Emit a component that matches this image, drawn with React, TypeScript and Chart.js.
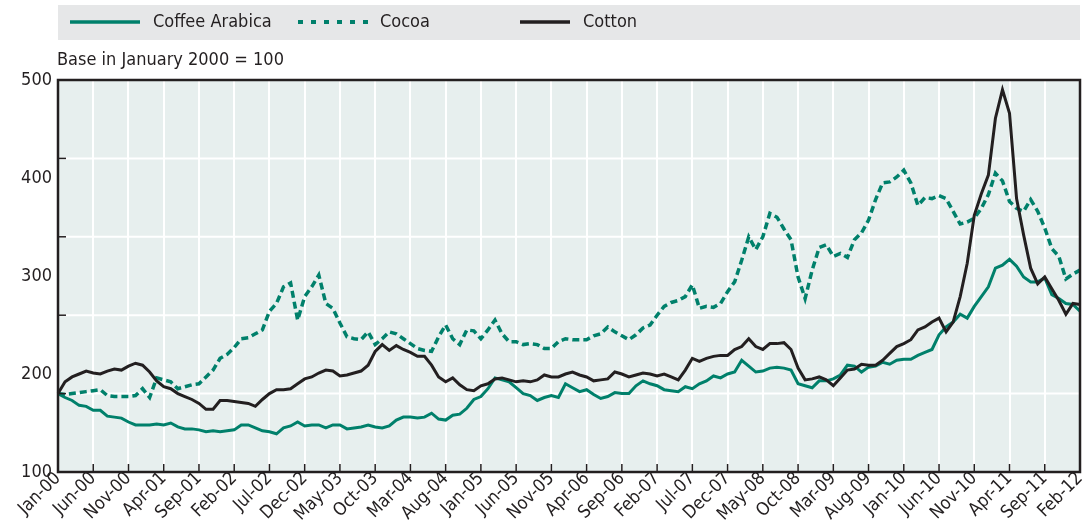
import React, { useEffect, useRef } from "react";
import { Chart, registerables } from "chart.js";

Chart.register(...registerables);

const MONTH_NAMES = ["Jan", "Feb", "Mar", "Apr", "May", "Jun", "Jul", "Aug", "Sep", "Oct", "Nov", "Dec"];
const months: string[] = [];
for (let y = 2000; y <= 2012; y++) {
  for (let m = 0; m < 12; m++) {
    if (y === 2012 && m > 1) break;
    months.push(`${MONTH_NAMES[m]}-${String(y % 100).padStart(2, "0")}`);
  }
}

const coffeeArabica = [
  180, 176, 173, 168, 167, 163, 163, 157, 156, 155,
  151, 148, 148, 148, 149, 148, 150, 146, 144, 144,
  143, 141, 142, 141, 142, 143, 148, 148, 145, 142,
  141, 139, 145, 147, 151, 147, 148, 148, 145, 148,
  148, 144, 145, 146, 148, 146, 145, 147, 153, 156,
  156, 155, 156, 160, 154, 153, 158, 159, 165, 174,
  177, 185, 196, 194, 192, 186, 180, 178, 173, 176,
  178, 176, 190, 186, 182, 184, 179, 175, 177, 181,
  180, 180, 188, 193, 190, 188, 184, 183, 182, 187,
  185, 190, 193, 198, 196, 200, 202, 214, 208, 202,
  203, 206, 207, 206, 204, 190, 188, 186, 193, 193,
  195, 199, 209, 208, 202, 207, 208, 212, 210, 214,
  215, 215, 219, 222, 225, 240, 248, 253, 261, 257,
  269, 279, 289, 308, 311, 317, 310, 299, 294, 294,
  298, 281, 277, 272, 271, 264,
];

const cocoa = [
  180, 179, 180, 181, 182, 183, 184, 178, 177, 177,
  177, 178, 185, 176, 196, 194, 192, 185, 187, 189,
  190, 197, 204, 216, 220, 227, 236, 237, 241, 245,
  264, 272, 289, 293, 255, 279, 289, 301, 272, 267,
  252, 238, 236, 235, 243, 230, 236, 243, 241, 236,
  231, 226, 224, 223, 238, 250, 236, 230, 245, 244,
  236, 245, 255, 241, 233, 233, 230, 231, 230, 226,
  226, 233, 236, 235, 235, 235, 239, 241, 248, 243,
  239, 235, 240, 247, 250, 260, 269, 273, 275, 279,
  291, 267, 269, 268, 272, 284, 294, 316, 340, 327,
  340, 364, 360, 348, 337, 299, 277, 306, 329, 332,
  320, 323, 319, 337, 344, 357, 378, 395, 396, 401,
  408, 395, 372, 380, 379, 382, 379, 366, 353, 355,
  359, 369, 383, 405, 397, 376, 369, 366, 378, 366,
  349, 328, 320, 297, 302, 306,
];

const cotton = [
  180, 192, 197, 200, 203, 201, 200, 203, 205, 204,
  208, 211, 209, 202, 193, 187, 185, 180, 177, 174,
  170, 164, 164, 173, 173, 172, 171, 170, 167, 174,
  180, 184, 184, 185, 190, 195, 197, 201, 204, 203,
  198, 199, 201, 203, 209, 223, 230, 224, 229, 225,
  222, 218, 218, 209, 197, 192, 196, 189, 184, 183,
  188, 190, 195, 196, 194, 192, 193, 192, 194, 199,
  197, 197, 200, 202, 199, 197, 193, 194, 195, 202,
  200, 197, 199, 201, 200, 198, 200, 197, 194, 204,
  216, 213, 216, 218, 219, 219, 225, 228, 236, 228,
  225, 231, 231, 232, 225, 206, 194, 195, 197, 194,
  188, 196, 204, 205, 210, 209, 209, 214, 221, 228,
  231, 235, 245, 248, 253, 257, 243, 253, 279, 313,
  362, 384, 403, 461, 490, 466, 379, 342, 308, 292,
  299, 287, 275, 261, 272, 271,
];

const yLabelValues = [100, 200, 300, 400, 500];
const yGridValues = [180, 260, 340, 420];
const xTickStep = 5;

const seriesNames = ["Coffee Arabica", "Cocoa", "Cotton"];
const subtitle = "Base in January 2000 = 100";

const GREEN = "#00806b";
const BLACK = "#231f20";
const TEXT = "#231f20";
const PLOT_BG = "#e7efee";
const LEGEND_BG = "#e6e7e8";
const FONT = '"Liberation Sans Narrow", "Arial Narrow", "DejaVu Sans Condensed", sans-serif';
const FONT_SIZE = 18;

const decorPlugin = {
  id: "decor",
  beforeDraw(chart: any) {
    const { ctx, chartArea: a } = chart;
    ctx.save();
    ctx.fillStyle = PLOT_BG;
    ctx.fillRect(a.left, a.top, a.right - a.left, a.bottom - a.top);
    ctx.fillStyle = LEGEND_BG;
    ctx.fillRect(a.left, 5, a.right - a.left, 35);
    ctx.restore();
  },
  beforeDatasetsDraw(chart: any) {
    const { ctx, chartArea: a, scales } = chart;
    ctx.save();
    ctx.strokeStyle = "#ffffff";
    ctx.lineWidth = 2;
    yGridValues.forEach((v) => {
      const y = scales.y.getPixelForValue(v);
      ctx.beginPath();
      ctx.moveTo(a.left, y);
      ctx.lineTo(a.right, y);
      ctx.stroke();
    });
    ctx.restore();
  },
  afterDatasetsDraw(chart: any) {
    const { ctx, chartArea: a, scales } = chart;
    ctx.save();
    ctx.strokeStyle = BLACK;
    ctx.lineWidth = 1.5;
    for (let i = xTickStep; i < months.length - 1; i += xTickStep) {
      const x = scales.x.getPixelForValue(i);
      ctx.beginPath();
      ctx.moveTo(x, a.bottom);
      ctx.lineTo(x, a.bottom - 8);
      ctx.stroke();
    }
    yGridValues.forEach((v) => {
      const y = scales.y.getPixelForValue(v);
      ctx.beginPath();
      ctx.moveTo(a.left, y);
      ctx.lineTo(a.left + 8, y);
      ctx.stroke();
    });
    ctx.lineWidth = 2.5;
    ctx.strokeRect(a.left, a.top, a.right - a.left, a.bottom - a.top);
    ctx.restore();
  },
  afterDraw(chart: any) {
    const { ctx } = chart;
    ctx.save();
    const ly = 22;
    ctx.lineWidth = 3.5;
    ctx.strokeStyle = GREEN;
    ctx.beginPath();
    ctx.moveTo(70, ly);
    ctx.lineTo(140, ly);
    ctx.stroke();
    ctx.lineWidth = 4;
    ctx.setLineDash([5, 8]);
    ctx.beginPath();
    ctx.moveTo(298, ly);
    ctx.lineTo(368, ly);
    ctx.stroke();
    ctx.setLineDash([]);
    ctx.lineWidth = 3.5;
    ctx.strokeStyle = BLACK;
    ctx.beginPath();
    ctx.moveTo(520, ly);
    ctx.lineTo(570, ly);
    ctx.stroke();

    ctx.fillStyle = TEXT;
    ctx.font = `${FONT_SIZE}px ${FONT}`;
    ctx.textBaseline = "middle";
    ctx.textAlign = "left";
    ctx.fillText(seriesNames[0], 153, ly);
    ctx.fillText(seriesNames[1], 380, ly);
    ctx.fillText(seriesNames[2], 583, ly);
    ctx.fillText(subtitle, 57, 60);
    ctx.restore();
  },
};

export default function App() {
  const canvasRef = useRef<HTMLCanvasElement | null>(null);

  useEffect(() => {
    const canvas = canvasRef.current;
    if (!canvas) return;
    const chart = new Chart(canvas, {
      type: "line",
      data: {
        labels: months,
        datasets: [
          {
            label: seriesNames[0],
            data: coffeeArabica,
            borderColor: GREEN,
            borderWidth: 3,
            pointRadius: 0,
            tension: 0,
            fill: false,
            order: 1,
          },
          {
            label: seriesNames[1],
            data: cocoa,
            borderColor: GREEN,
            borderWidth: 3.5,
            borderDash: [7, 4],
            pointRadius: 0,
            tension: 0,
            fill: false,
            order: 2,
          },
          {
            label: seriesNames[2],
            data: cotton,
            borderColor: BLACK,
            borderWidth: 3,
            pointRadius: 0,
            tension: 0,
            fill: false,
            order: 0,
          },
        ],
      },
      options: {
        responsive: false,
        animation: false,
        devicePixelRatio: 1,
        layout: { padding: { left: 0, top: 80, right: 9, bottom: 0 } },
        plugins: {
          legend: { display: false },
          tooltip: { enabled: false },
        },
        scales: {
          x: {
            type: "category",
            offset: false,
            grid: { color: "#ffffff", lineWidth: 2, drawTicks: false },
            border: { display: false },
            ticks: {
              autoSkip: false,
              maxRotation: 45,
              minRotation: 45,
              padding: -4,
              color: TEXT,
              font: { family: FONT, size: FONT_SIZE },
            },
            afterBuildTicks: (s: any) => {
              s.ticks = s.ticks.filter((t: any) => t.value % xTickStep === 0);
            },
            afterFit: (s: any) => {
              s.height = 58;
              s.paddingRight = 0;
              s.paddingLeft = 0;
            },
          },
          y: {
            type: "linear",
            min: 100,
            max: 500,
            grid: { display: false, drawTicks: false },
            border: { display: false },
            ticks: {
              padding: 6,
              color: TEXT,
              font: { family: FONT, size: FONT_SIZE },
            },
            afterBuildTicks: (s: any) => {
              s.ticks = yLabelValues.map((v) => ({ value: v }));
            },
            afterFit: (s: any) => {
              s.width = 58;
              s.paddingTop = 0;
              s.paddingBottom = 0;
            },
          },
        },
      },
      plugins: [decorPlugin],
    });
    return () => chart.destroy();
  }, []);

  return (
    <div style={{ position: "fixed", left: 0, top: 0, width: 1089, height: 530, background: "#ffffff" }}>
      <canvas ref={canvasRef} width={1089} height={530} style={{ display: "block" }} />
    </div>
  );
}
